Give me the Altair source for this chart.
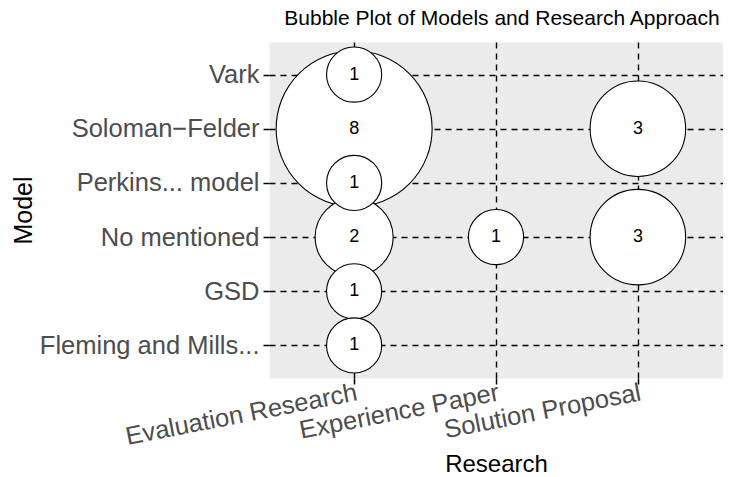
import altair as alt
import pandas as pd

# data
research = ["Evaluation Research"] * 6 + ["Experience Paper"] + ["Solution Proposal"] * 2
models = ["Vark", "Soloman−Felder", "Perkins... model", "No mentioned", "GSD",
          "Fleming and Mills...", "No mentioned", "Soloman−Felder", "No mentioned"]
counts = [1, 8, 1, 2, 1, 1, 1, 3, 3]

research_order = ["Evaluation Research", "Experience Paper", "Solution Proposal"]
model_order = ["Vark", "Soloman−Felder", "Perkins... model", "No mentioned", "GSD",
               "Fleming and Mills..."]

df = pd.DataFrame({"Research": research, "Model": models, "n": counts})
df = df.sort_values("n", ascending=False, kind="stable").reset_index(drop=True)

FONT = "Liberation Sans"
DASH_GRID = [6, 5]

x_enc = alt.X(
    "Research:N",
    scale=alt.Scale(type="point", domain=research_order, padding=0.6),
    axis=alt.Axis(
        title="Research", labelAngle=-11, labelAlign="right", labelBaseline="top",
        labelFontSize=25.5, labelColor="#4D4D4D", labelFont=FONT, labelPadding=-7,
        labelOverlap=False, labelBound=False, labelLimit=0,
        tickColor="black", tickSize=9, tickWidth=1.5, tickDash=DASH_GRID,
        grid=True, gridColor="black", gridDash=DASH_GRID, gridWidth=1.4,
        domain=False, titleFontSize=24, titleFont=FONT, titleColor="black",
        titleFontWeight="normal", titlePadding=3,
    ),
)
y_enc = alt.Y(
    "Model:N",
    scale=alt.Scale(type="point", domain=model_order, padding=0.6),
    axis=alt.Axis(
        title="Model", labelFontSize=25.5, labelColor="#4D4D4D", labelFont=FONT,
        labelPadding=1, labelOverlap=False, labelLimit=0,
        tickColor="black", tickSize=9, tickWidth=1.5, tickDash=DASH_GRID,
        grid=True, gridColor="black", gridDash=DASH_GRID, gridWidth=1.4,
        domain=False, titleFontSize=25, titleFont=FONT, titleColor="black",
        titleFontWeight="normal", titlePadding=33,
    ),
)

base = alt.Chart(df).encode(x=x_enc, y=y_enc)

bubbles = base.mark_circle(fill="white", stroke="black", strokeWidth=1.1, opacity=1).encode(
    size=alt.Size("n:Q", scale=alt.Scale(domain=[0, 8], range=[0, 24336]), legend=None)
)
labels = base.mark_text(fontSize=18, font=FONT, color="black").encode(text="n:Q")

chart = (bubbles + labels).properties(
    width=454,
    height=336,
    padding={"left": 3, "top": 0, "right": 0, "bottom": 0},
    title=alt.TitleParams(
        "Bubble Plot of Models and Research Approach", fontSize=21, font=FONT,
        fontWeight="normal", anchor="middle", offset=13, dx=6, color="black",
    ),
).configure_view(fill="#EBEBEB", stroke="transparent")

chart.save("out.html", embed_options={"renderer": "svg", "actions": False})
